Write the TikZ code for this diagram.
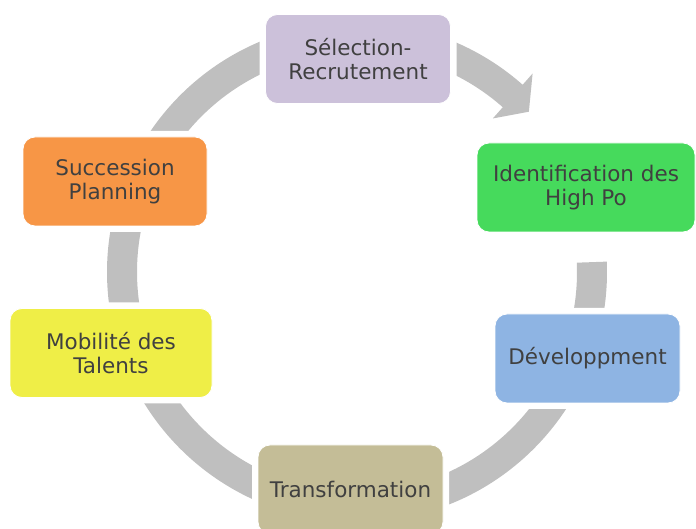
\documentclass[tikz,border=0pt]{standalone}
\usepackage{fontspec}
\setmainfont{DejaVu Sans}
\usepackage{tikz}

\definecolor{ringgray}{HTML}{BFBFBF}
\definecolor{selcol}{HTML}{CCC1DA}
\definecolor{identcol}{HTML}{46DA5C}
\definecolor{devcol}{HTML}{8EB4E3}
\definecolor{transcol}{HTML}{C4BD97}
\definecolor{mobcol}{HTML}{EFEE47}
\definecolor{succcol}{HTML}{F79646}

\begin{document}
\begin{tikzpicture}[x=1pt, y=1pt, box/.style = {rounded corners=12pt, minimum width=185pt, minimum height=89pt, align=center, text=black!75, font=\fontsize{21.5}{24.5}\selectfont, draw=white, line width=0.8pt, preaction={draw=white, line width=12pt}}, ring/.style = {ringgray}]
\clip (0,0) rectangle (696,529);
\coordinate (ctr) at (357,257);

% ring with the one arrow
\fill[ring] ([shift={(80:250)}]ctr) arc[start angle=80, end angle=48.5, radius=250] -- ([shift={(48.5:265)}]ctr) -- ([shift={(43:235)}]ctr) -- ([shift={(48.5:205)}]ctr) -- ([shift={(48.5:220)}]ctr) arc[start angle=48.5, end angle=80, radius=220] -- cycle;
\draw[ring, line width=30pt] ([shift={(2.4:235)}]ctr) arc[start angle=2.4, end angle=-280, radius=235];

\node[box, fill=selcol] (sel) at (358,470) {Sélection-\\Recrutement};
\node[box, fill=identcol, minimum width=218pt] (ident) at (586,341.5) {Identification des\\High Po};
\node[box, fill=devcol] (dev) at (587.5,170.5) {Développment};
\node[box, fill=transcol] (trans) at (350.5,39.5) {Transformation};
\node[box, fill=mobcol, minimum width=202pt] (mob) at (111,176) {Mobilité des\\Talents};
\node[box, fill=succcol, minimum width=184pt] (succ) at (115,347.5) {Succession\\Planning};

\end{tikzpicture}
\end{document}
